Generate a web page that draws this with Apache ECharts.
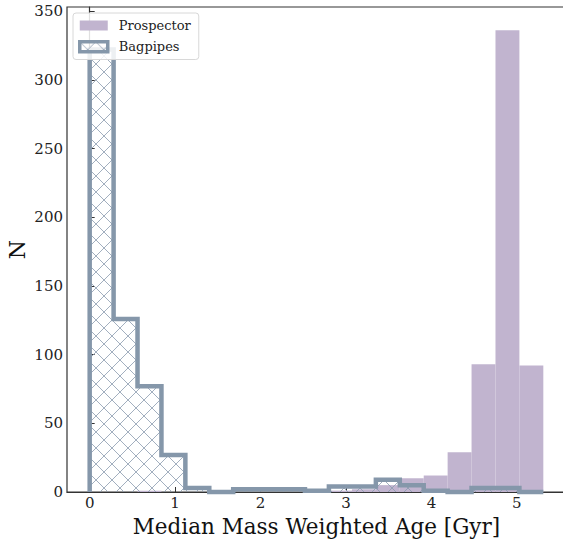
<!DOCTYPE html>
<html>
<head>
<meta charset="utf-8">
<script src="https://cdn.jsdelivr.net/npm/echarts@6/dist/echarts.min.js"></script>
<style>
	html, body { margin: 0; padding: 0; background: #fff; }
	#chart { width: 563px; height: 539px; }
</style>
</head>
<body>
<div id="chart"></div>
<script>
// histogram bin edges (Gyr), shared by both codes
const binEdges = [0, 0.28, 0.56, 0.84, 1.12, 1.40, 1.68, 1.96, 2.24, 2.52, 2.80, 3.07, 3.35, 3.63, 3.91, 4.19, 4.47, 4.75, 5.03, 5.31]
const prospector = [0, 0, 1, 0, 0, 0, 0, 0, 0, 0, 1, 2, 5, 10, 12, 29, 93, 336, 92]
const bagpipes = [322, 126, 77, 27, 3, 0, 2, 2, 2, 1, 4, 4, 9, 5, 1, 0, 3, 3, 0]
const xTicks = [0, 1, 2, 3, 4, 5]
const yTicks = [0, 50, 100, 150, 200, 250, 300, 350]

const FONT = 'DejaVu Serif'
const PURPLE = '#c1b4cf'
const SLATE = '#8597aa'

// cross hatch tile for the bagpipes fill
function makeHatch(){
	const c = document.createElement('canvas')
	c.width = 16
	c.height = 16
	const g = c.getContext('2d')
	g.strokeStyle = '#8a9bae'
	g.lineWidth = 0.8
	g.beginPath()
	g.moveTo(-1, -1); g.lineTo(17, 17)
	g.moveTo(17, -1); g.lineTo(-1, 17)
	g.stroke()
	return c
}
const hatch = { type: 'pattern', image: makeHatch(), repeat: 'repeat' }

const prospectorData = prospector.map((v, i) => [binEdges[i], binEdges[i + 1], v])

const myChart = echarts.init(document.getElementById('chart'), null, { renderer: 'svg' })

const option = {
	animation: false,
	grid: {
		left: 67,
		top: 7,
		width: 499,
		height: 485,
		containLabel: false,
		outerBoundsMode: 'none',
		show: true,
		borderColor: '#333',
		borderWidth: 1.2,
		backgroundColor: 'transparent'
	},
	legend: {
		left: 73,
		top: 13,
		orient: 'vertical',
		padding: [6, 8, 6, 5],
		itemGap: 8,
		itemWidth: 28,
		itemHeight: 10,
		backgroundColor: 'rgba(255,255,255,0.85)',
		borderColor: '#d8d8d8',
		borderWidth: 1,
		borderRadius: 3,
		textStyle: { fontFamily: FONT, fontSize: 13, color: '#222', padding: [0, 0, 0, 6] },
		data: [
			{ name: 'Prospector', icon: 'rect' },
			{ name: 'Bagpipes', icon: 'rect', itemStyle: { borderWidth: 3.5 } }
		]
	},
	xAxis: {
		type: 'value',
		min: -0.2655,
		max: 5.5755,
		name: 'Median Mass Weighted Age [Gyr]',
		nameLocation: 'middle',
		nameGap: 23,
		nameMoveOverlap: false,
		nameTextStyle: { fontFamily: FONT, fontSize: 21.5, color: '#111' },
		axisLine: { show: true, lineStyle: { color: '#333', width: 1.2 } },
		axisTick: { show: true, inside: true, length: 5, customValues: xTicks, lineStyle: { color: '#333' } },
		axisLabel: { customValues: xTicks, fontFamily: FONT, fontSize: 15, color: '#222', margin: 3 },
		splitLine: { show: false }
	},
	yAxis: {
		type: 'value',
		min: 0,
		max: 353,
		name: 'N',
		nameLocation: 'middle',
		nameGap: 39,
		nameMoveOverlap: false,
		nameRotate: 90,
		nameTextStyle: { fontFamily: FONT, fontSize: 22, color: '#111' },
		axisLine: { show: true, lineStyle: { color: '#333', width: 1.2 } },
		axisTick: { show: true, inside: true, length: 5, customValues: yTicks, lineStyle: { color: '#333' } },
		axisLabel: { customValues: yTicks, fontFamily: FONT, fontSize: 15, color: '#222', margin: 4 },
		splitLine: { show: false }
	},
	series: [
		{
			name: 'Prospector',
			type: 'custom',
			itemStyle: { color: PURPLE },
			data: prospectorData,
			renderItem: function(params, api){
				const a = api.coord([api.value(0), 0])
				const b = api.coord([api.value(1), api.value(2)])
				return {
					type: 'rect',
					shape: { x: a[0], y: b[1], width: b[0] - a[0], height: a[1] - b[1] },
					style: { fill: PURPLE }
				}
			}
		},
		{
			name: 'Bagpipes',
			type: 'custom',
			z: 3,
			itemStyle: { color: hatch, borderColor: SLATE, borderWidth: 3.5 },
			data: [0],
			renderItem: function(params, api){
				// step outline of the whole histogram
				const pts = [api.coord([binEdges[0], 0])]
				bagpipes.forEach((v, i) => {
					pts.push(api.coord([binEdges[i], v]))
					pts.push(api.coord([binEdges[i + 1], v]))
				})
				pts.push(api.coord([binEdges[binEdges.length - 1], 0]))
				return {
					type: 'group',
					children: [
						{ type: 'polygon', shape: { points: pts }, style: { fill: hatch } },
						{ type: 'polyline', shape: { points: pts }, style: { fill: null, stroke: SLATE, lineWidth: 4.5, lineJoin: 'miter' } }
					]
				}
			}
		}
	]
}

myChart.setOption(option)
</script>
</body>
</html>
